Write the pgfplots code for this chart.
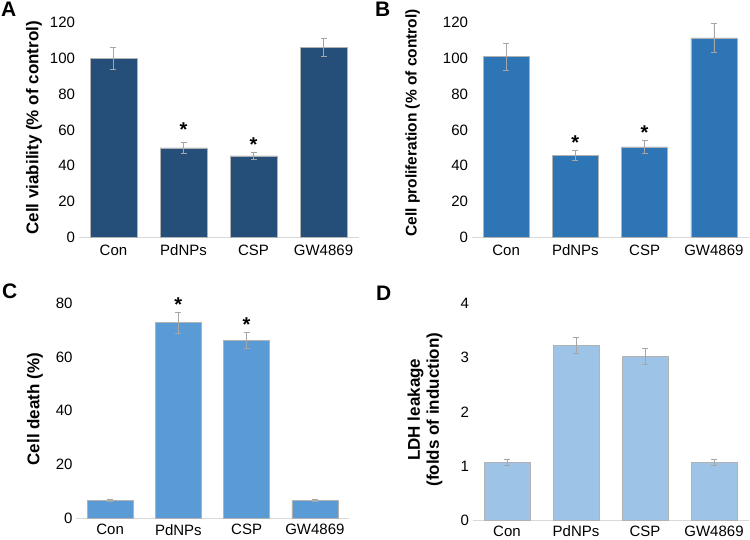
\documentclass[border=0pt]{standalone}
\usepackage{pgfplots}
\pgfplotsset{compat=1.18}
\usepackage{fontspec}
\setmainfont{Liberation Sans}
\definecolor{cA}{HTML}{254E78}
\definecolor{cB}{HTML}{2E75B6}
\definecolor{cC}{HTML}{5B9BD5}
\definecolor{cD}{HTML}{9DC3E6}
\definecolor{axisgray}{HTML}{D9D9D9}
\definecolor{errgray}{HTML}{A6A6A6}
\pgfplotsset{
  panel/.style={
    scale only axis, anchor=south west, ybar,
    xmin=-0.5, xmax=3.5, ymin=0,
    xtick={0,1,2,3}, xticklabels={Con,PdNPs,CSP,GW4869},
    axis x line*=bottom, axis y line*=left,
    y axis line style={draw=none},
    x axis line style={draw=axisgray, line width=1pt, -},
    major tick length=0pt,
    tick label style={font=\fontsize{15}{18}\selectfont, black},
    xticklabel style={yshift=-4pt},
    /pgf/number format/assume math mode=true,
    ylabel style={font=\bfseries\fontsize{17}{19}\selectfont, anchor=center, align=center},
    clip=false,
  },
  errs/.style={
    draw=gray!60, line width=0.5pt,
    error bars/.cd, y dir=both, y explicit,
    error bar style={errgray, line width=0.6pt},
    error mark options={rotate=90, errgray, mark size=3pt, line width=0.6pt},
  },
}
\begin{document}
\begin{tikzpicture}
\useasboundingbox (0pt,0pt) rectangle (750pt,-540pt);
% Panel A
\begin{axis}[panel, at={(78.5pt,-237.3pt)}, width=280pt, height=214.6pt,
  ymax=120, ytick={0,20,...,120}, bar width=47pt,
  ylabel={Cell viability (\% of control)},
  ylabel style={at={(axis description cs:-0.159,0.51)}}]
\addplot[fill=cA, errs] coordinates {(0,100) +- (0,6) (1,50) +- (0,3) (2,45.5) +- (0,2) (3,106) +- (0,5)};
\node[font=\bfseries\fontsize{20}{20}\selectfont] at (axis cs:1,60) {*};
\node[font=\bfseries\fontsize{20}{20}\selectfont] at (axis cs:2,52) {*};
\end{axis}
% Panel B
\begin{axis}[panel, at={(471.5pt,-237.3pt)}, width=277pt, height=214.6pt,
  ymax=120, ytick={0,20,...,120}, bar width=46pt,
  ylabel={Cell proliferation (\% of control)},
  ylabel style={font=\bfseries\fontsize{15.5}{18}\selectfont, at={(axis description cs:-0.213,0.533)}}]
\addplot[fill=cB, errs] coordinates {(0,101) +- (0,7.5) (1,45.8) +- (0,3) (2,50.5) +- (0,3.5) (3,111.5) +- (0,8)};
\node[font=\bfseries\fontsize{20}{20}\selectfont] at (axis cs:1,53) {*};
\node[font=\bfseries\fontsize{20}{20}\selectfont] at (axis cs:2,58.5) {*};
\end{axis}
% Panel C
\begin{axis}[panel, at={(76pt,-518.3pt)}, width=273pt, height=215pt,
  ymax=80, ytick={0,20,...,80}, bar width=46pt,
  xticklabel style={inner sep=0.5pt, yshift=-1.5pt},
  ylabel={Cell death (\%)},
  ylabel style={at={(axis description cs:-0.150,0.508)}}]
\addplot[fill=cC, errs] coordinates {(0,6.8) +- (0,0.3) (1,72.8) +- (0,4) (2,66.3) +- (0,3) (3,6.8) +- (0,0.3)};
\node[font=\bfseries\fontsize{20}{20}\selectfont] at (axis cs:1,79.5) {*};
\node[font=\bfseries\fontsize{20}{20}\selectfont] at (axis cs:2,72.2) {*};
\end{axis}
% Panel D
\begin{axis}[panel, at={(472.5pt,-520.7pt)}, width=276pt, height=217.7pt,
  ymax=4, ytick={0,1,...,4}, bar width=46pt,
  xticklabel style={inner sep=0.5pt, yshift=-0.5pt},
  ylabel={LDH leakage\\(folds of induction)},
  ylabel style={at={(axis description cs:-0.172,0.51)}}]
\addplot[fill=cD, errs] coordinates {(0,1.07) +- (0,0.05) (1,3.22) +- (0,0.15) (2,3.02) +- (0,0.15) (3,1.07) +- (0,0.05)};
\end{axis}
% panel letters
\node[anchor=north west, inner sep=0, font=\bfseries\fontsize{21}{21}\selectfont] at (1pt,-2pt) {A};
\node[anchor=north west, inner sep=0, font=\bfseries\fontsize{21}{21}\selectfont] at (375pt,-2pt) {B};
\node[anchor=north west, inner sep=0, font=\bfseries\fontsize{21}{21}\selectfont] at (2pt,-284pt) {C};
\node[anchor=north west, inner sep=0, font=\bfseries\fontsize{21}{21}\selectfont] at (376pt,-286pt) {D};
\end{tikzpicture}
\end{document}
